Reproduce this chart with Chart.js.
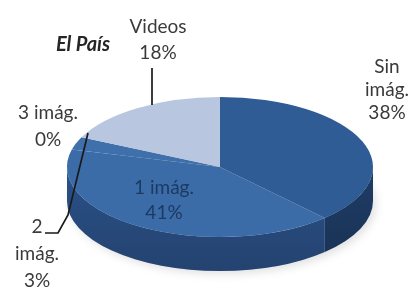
<!DOCTYPE html>
<html lang="es">
<head>
    <meta charset="UTF-8">
    <title>El País</title>
    <script src="https://cdn.jsdelivr.net/npm/chart.js"></script>
    <style>
        body { margin: 0; background: #fff; }
        #wrap { width: 412px; height: 289px; position: relative; }
    </style>
</head>
<body>
    <div id="wrap"><canvas id="pieChart"></canvas></div>
    <script>
        // data
        var categories = ['Sin imág.', '1 imág.', '2 imág.', '3 imág.', 'Videos'];
        var shares = [38, 41, 3, 0, 18];
        var labelLines = [['Sin', 'imág.', '38%'], ['1 imág.', '41%'], ['2', 'imág.', '3%'], ['3 imág.', '0%'], ['Videos', '18%']];
        var chartTitle = 'El País';

        var topColors = ['#2f5c94', '#3b6ca8', '#3f70ac', '#3f70ac', '#b8c6e0'];
        var sideColors = ['#1f3c66', '#2b5188', '#2c548c', '#2c548c', '#8a9bb8'];

        // where the flattened pie sits on the page
        var geo = { cx: 220, cy: 167, rx: 153, ry: 70, depth: 34 };
        // label anchor points (centre of first line), line gaps
        var labelPos = [[387, 67], [164, 188], [37, 227], [48, 113], [158, 27]];
        var labelGap = [23, 25, 27, 27, 26];

        var pie3d = {
            id: 'pie3d',
            beforeDatasetsDraw(chart) {
                var ctx = chart.ctx;
                var arcs = chart.getDatasetMeta(0).data;
                var g = geo;
                ctx.save();
                // soft shadow under the pie
                ctx.fillStyle = 'rgba(0,0,0,0.12)';
                ctx.filter = 'blur(4px)';
                ctx.beginPath();
                ctx.ellipse(g.cx + 3, g.cy + g.depth + 3, g.rx, g.ry, 0, 0, Math.PI * 2);
                ctx.fill();
                ctx.filter = 'none';
                // side walls (front half only)
                arcs.forEach(function (arc, i) {
                    var s = Math.max(arc.startAngle, 0);
                    var e = Math.min(arc.endAngle, Math.PI);
                    if (e <= s) return;
                    ctx.beginPath();
                    ctx.ellipse(g.cx, g.cy, g.rx, g.ry, 0, s, e);
                    ctx.ellipse(g.cx, g.cy + g.depth, g.rx, g.ry, 0, e, s, true);
                    ctx.closePath();
                    ctx.fillStyle = sideColors[i];
                    ctx.fill();
                });
                // darken the wall towards its bottom edge
                var grad = ctx.createLinearGradient(0, g.cy, 0, g.cy + g.ry + g.depth);
                grad.addColorStop(0, 'rgba(0,0,0,0)');
                grad.addColorStop(1, 'rgba(0,0,0,0.18)');
                ctx.beginPath();
                ctx.ellipse(g.cx, g.cy, g.rx, g.ry, 0, 0, Math.PI);
                ctx.ellipse(g.cx, g.cy + g.depth, g.rx, g.ry, 0, Math.PI, 0, true);
                ctx.closePath();
                ctx.fillStyle = grad;
                ctx.fill();
                ctx.restore();

                // flatten the library's pie into the top ellipse
                var a = arcs[0];
                ctx.save();
                ctx.translate(g.cx, g.cy);
                ctx.scale(g.rx / a.outerRadius, g.ry / a.outerRadius);
                ctx.translate(-a.x, -a.y);
            },
            afterDatasetsDraw(chart) {
                chart.ctx.restore();
            },
            afterDraw(chart) {
                var ctx = chart.ctx;
                ctx.save();
                // leader lines
                ctx.strokeStyle = '#1a1a1a';
                ctx.lineWidth = 1.7;
                ctx.beginPath();
                ctx.moveTo(152, 68);
                ctx.lineTo(152, 105);
                ctx.stroke();
                ctx.beginPath();
                ctx.moveTo(88, 133);
                ctx.lineTo(68, 215);
                ctx.lineTo(58, 233);
                ctx.lineTo(45, 233);
                ctx.stroke();

                ctx.textAlign = 'center';
                ctx.textBaseline = 'middle';
                ctx.font = 'bold italic 20px Lato';
                ctx.fillStyle = '#262626';
                ctx.fillText(chartTitle, 83, 45);

                ctx.font = '19px Lato';
                labelLines.forEach(function (lines, i) {
                    ctx.fillStyle = i === 1 ? '#1d3a63' : '#3a3a3a';
                    lines.forEach(function (t, k) {
                        ctx.fillText(t, labelPos[i][0], labelPos[i][1] + k * labelGap[i]);
                    });
                });
                ctx.restore();
            }
        };

        new Chart(document.getElementById('pieChart'), {
            type: 'pie',
            data: {
                labels: categories,
                datasets: [{
                    data: shares,
                    backgroundColor: topColors,
                    borderWidth: 0
                }]
            },
            options: {
                responsive: true,
                maintainAspectRatio: false,
                animation: false,
                plugins: {
                    legend: { display: false },
                    tooltip: { enabled: false }
                }
            },
            plugins: [pie3d]
        });
    </script>
</body>
</html>
